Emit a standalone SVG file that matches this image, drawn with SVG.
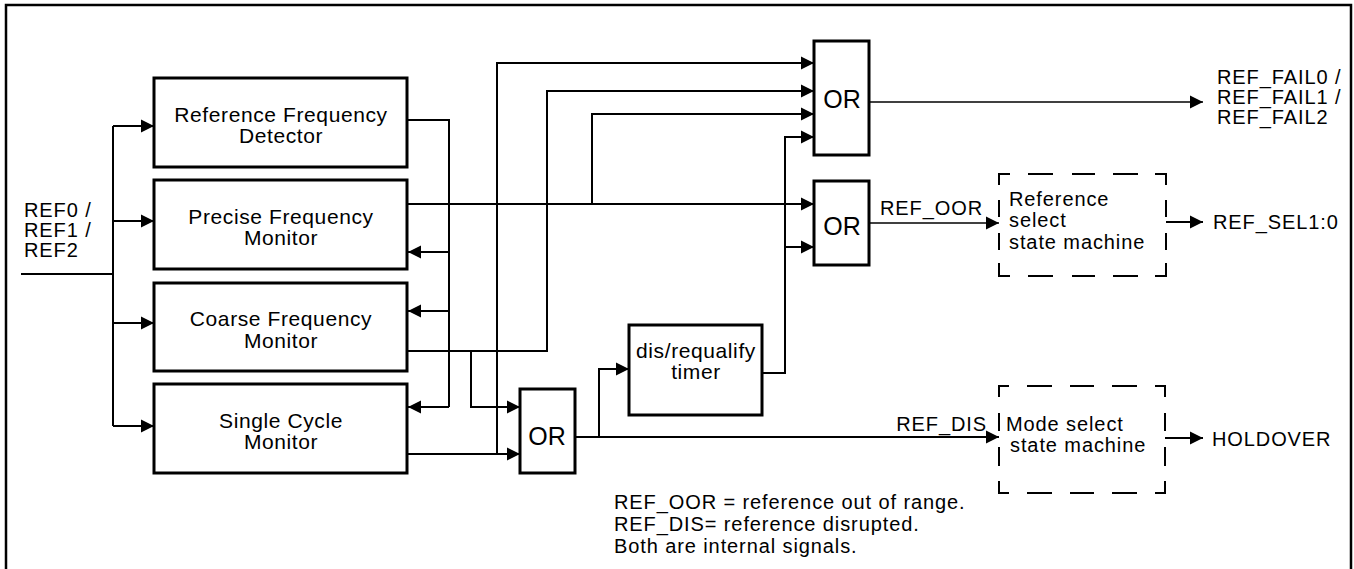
<svg xmlns="http://www.w3.org/2000/svg" width="1354" height="569" viewBox="0 0 1354 569">
<style>
  text { font-family: "Liberation Sans", Arial, Helvetica, sans-serif; fill: #000; }
  .t { font-size: 20px; letter-spacing: 0.9px; }
  .b { font-size: 21px; letter-spacing: 0.6px; text-anchor: middle; }
  .or { font-size: 25px; text-anchor: middle; }
  .box { fill: #fff; stroke: #000; stroke-width: 3; }
  .dash { fill: none; stroke: #000; stroke-width: 2; }
  .w { fill: none; stroke: #000; stroke-width: 2; }
  .thin { fill: none; stroke: #000; stroke-width: 1.3; }
  .a { marker-end: url(#arr); }
</style>
<defs>
  <marker id="arr" markerUnits="userSpaceOnUse" markerWidth="14" markerHeight="14" refX="13" refY="7" orient="auto">
    <path d="M0,0.5 L13,7 L0,13.5 z" fill="#000"/>
  </marker>
</defs>
<rect x="0" y="0" width="1354" height="569" fill="#fff"/>
<path id="frame" d="M6,569 V5 H1351 V569" fill="none" stroke="#000" stroke-width="2.5"/>

<g id="connectors">
  <path class="w" d="M21,274 H113"/>
  <path class="w" d="M113,126 V426"/>
  <path class="w a" d="M113,126 H154"/>
  <path class="w a" d="M113,221 H154"/>
  <path class="w a" d="M113,323 H154"/>
  <path class="w a" d="M113,426 H154"/>
  <path class="w" d="M407,120 H449 V407"/>
  <path class="w a" d="M449,252 H408"/>
  <path class="w a" d="M449,311 H408"/>
  <path class="w a" d="M449,407 H408"/>
  <path class="w a" d="M407,204 H814"/>
  <path class="w a" d="M592,204 V114 H814"/>
  <path class="w a" d="M407,351 H547 V91 H814"/>
  <path class="w a" d="M471,351 V407 H520"/>
  <path class="w a" d="M407,454 H520"/>
  <path class="w a" d="M497,454 V63 H814"/>
  <path class="w a" d="M575,437 H999"/>
  <path class="w a" d="M599,437 V369 H629"/>
  <path class="w a" d="M762,373 H785 V137 H814"/>
  <path class="w a" d="M785,247 H814"/>
  <path class="thin a" d="M869,102 H1203"/>
  <path class="thin a" d="M869,223 H999"/>
  <path class="w a" d="M1166,222 H1203"/>
  <path class="w a" d="M1165,438 H1203"/>
</g>

<g id="in-ref">
  <text class="t" x="24" y="217">REF0 /</text>
  <text class="t" x="24" y="237">REF1 /</text>
  <text class="t" x="24" y="257">REF2</text>
</g>

<g id="n-rfd">
  <rect class="box" x="154" y="78" width="253" height="89"/>
  <text class="b" x="281" y="122">Reference Frequency</text>
  <text class="b" x="281" y="143">Detector</text>
</g>
<g id="n-pfm">
  <rect class="box" x="154" y="180" width="253" height="89"/>
  <text class="b" x="281" y="224">Precise Frequency</text>
  <text class="b" x="281" y="245">Monitor</text>
</g>
<g id="n-cfm">
  <rect class="box" x="154" y="283" width="253" height="88"/>
  <text class="b" x="281" y="326">Coarse Frequency</text>
  <text class="b" x="281" y="348">Monitor</text>
</g>
<g id="n-scm">
  <rect class="box" x="154" y="384" width="253" height="89"/>
  <text class="b" x="281" y="428">Single Cycle</text>
  <text class="b" x="281" y="449">Monitor</text>
</g>

<g id="n-or1">
  <rect class="box" x="814" y="41" width="55" height="114"/>
  <text class="or" x="842" y="108">OR</text>
</g>
<g id="n-or2">
  <rect class="box" x="814" y="181" width="55" height="84"/>
  <text class="or" x="842" y="235">OR</text>
</g>
<g id="n-or3">
  <rect class="box" x="520" y="389" width="55" height="84"/>
  <text class="or" x="547" y="445">OR</text>
</g>

<g id="n-timer">
  <rect class="box" x="629" y="325" width="133" height="90"/>
  <text class="b" x="696" y="358">dis/requalify</text>
  <text class="b" x="696" y="379">timer</text>
</g>

<g id="n-refsel">
  <path class="dash" d="M999,185 V174 H1010 M1028,174 H1053 M1072,174 H1095 M1113,174 H1138 M1155,174 H1166 V185 M1166,200 V217 M1166,233 V250 M1166,263 V276 H1155 M1138,276 H1113 M1095,276 H1072 M1053,276 H1028 M1010,276 H999 V263 M999,250 V233 M999,217 V200"/>
  <text class="t" x="1009" y="206">Reference</text>
  <text class="t" x="1009" y="227">select</text>
  <text class="t" x="1009" y="249">state machine</text>
</g>

<g id="n-mode">
  <path class="dash" d="M999,397 V386 H1009 M1027,386 H1052 M1070,386 H1094 M1112,386 H1137 M1155,386 H1165 V397 M1165,413 V431 M1165,447 V466 M1165,481 V493 H1155 M1137,493 H1112 M1094,493 H1070 M1052,493 H1027 M1009,493 H999 V481 M999,466 V447 M999,431 V413"/>
  <text class="t" x="1006" y="431">Mode select</text>
  <text class="t" x="1010" y="452">state machine</text>
</g>

<g id="labels">
  <text class="t" x="1217" y="84">REF_FAIL0 /</text>
  <text class="t" x="1217" y="104">REF_FAIL1 /</text>
  <text class="t" x="1217" y="124">REF_FAIL2</text>
  <text class="t" x="880" y="215">REF_OOR</text>
  <text class="t" x="1213" y="229">REF_SEL1:0</text>
  <text class="t" x="987" y="431" text-anchor="end">REF_DIS</text>
  <text class="t" x="1212" y="446">HOLDOVER</text>
</g>

<g id="notes">
  <text class="t" x="614" y="509">REF_OOR = reference out of range.</text>
  <text class="t" x="614" y="531">REF_DIS= reference disrupted.</text>
  <text class="t" x="614" y="553">Both are internal signals.</text>
</g>
</svg>
